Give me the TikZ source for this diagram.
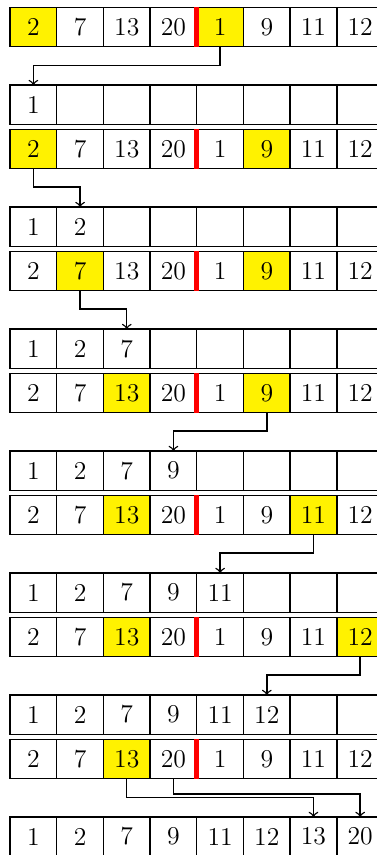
\documentclass[tikz,border=0pt]{standalone}
\usepackage{xcolor}
\usepackage{tikz}
\usetikzlibrary{arrows}

\definecolor{hl}{RGB}{255,242,0}

\begin{document}
\begin{tikzpicture}[semithick, every node/.style={font=\fontsize{11}{13}\selectfont},
        cell/.style={draw, rectangle, minimum width=0.703cm, minimum height=0.592cm, inner sep=0pt, outer sep=0pt},
        plain/.style={}, marked/.style={fill=hl},
        divider/.style={draw=red, line width=2pt},
        move/.style={->}]
        \useasboundingbox (0,0) rectangle (5.677,-12.876);

        % rows of the array, with the two compared entries marked
        \foreach \r/\p/\q in {0/1/5, 1/1/6, 2/2/6, 3/3/6, 4/3/7, 5/3/8, 6/3/0} {
            \foreach \v [count=\i] in {2,7,13,20,1,9,11,12} {
                \ifnum\i=\p \def\bg{marked}\else\ifnum\i=\q \def\bg{marked}\else\def\bg{plain}\fi\fi
                \node (arr\r-\i) [cell, \bg] at (0.703*\i-0.2, -0.406-1.837*\r) {\v};
            }
            \draw[divider] (arr\r-4.north east) -- (arr\r-4.south east);
        }

        % merged output, filled step by step
        \foreach \r/\n in {0/1, 1/2, 2/3, 3/4, 4/5, 5/6, 6/8} {
            \foreach \v [count=\i] in {1,2,7,9,11,12,13,20} {
                \node (out\r-\i) [cell] at (0.703*\i-0.2, -1.576-1.837*\r) {\ifnum\i>\n\else\v\fi};
            }
        }

        \foreach \r/\s/\t in {0/5/1, 1/1/2, 2/2/3, 3/6/4, 4/7/5, 5/8/6} {
            \draw[move] (arr\r-\s.south) -- ++(0,-0.28) -| (out\r-\t.north);
        }
        \draw[move] (arr6-3.south) -- ++(0,-0.285) -| (out6-7.north);
        \draw[move] (arr6-4.south) -- ++(0,-0.236) -| (out6-8.north);
    \end{tikzpicture}
\end{document}
